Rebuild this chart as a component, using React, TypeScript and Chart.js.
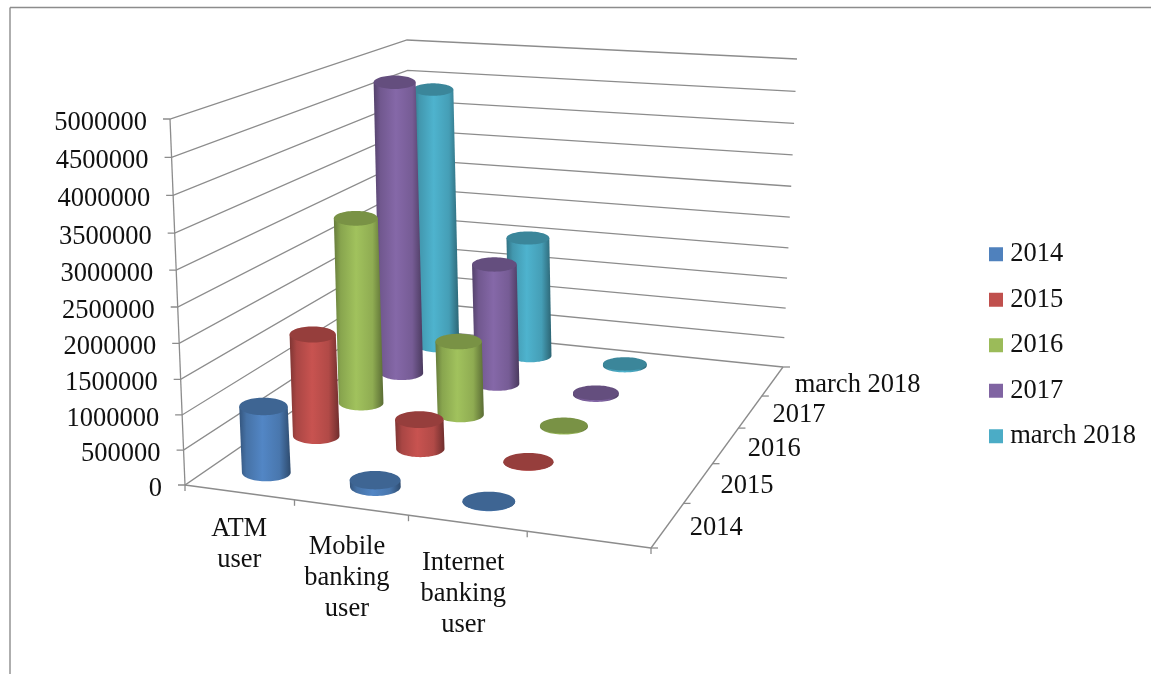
import React, { useEffect, useRef } from "react";
import { Chart, registerables } from "chart.js";

Chart.register(...registerables);

// Chart content
const categoryLabels: string[][] = [["ATM", "user"], ["Mobile", "banking", "user"], ["Internet", "banking", "user"], [""]];
const seriesNames = ["2014", "2015", "2016", "2017", "march 2018"];
const values2014 = [960000, 95000, 5000, null];
const values2015 = [1540000, 440000, 5000, null];
const values2016 = [2900000, 1150000, 15000, null];
const values2017 = [4690000, 1950000, 30000, null];
const valuesMarch2018 = [4340000, 2010000, 30000, null];
const seriesValues = [values2014, values2015, values2016, values2017, valuesMarch2018];
const seriesColors = ["#4F81BD", "#C0504D", "#9BBB59", "#8064A2", "#4BACC6"];

// Perspective box: pixel corners of the floor and ceiling planes
type P = [number, number];
const FLOOR: P[] = [[185, 485], [651, 548], [783, 367], [412, 329]];
const CEILING: P[] = [[170, 119], [661, 163], [797, 59], [407, 40]];
const VERTICAL_FORESHORTENING = 0.053;
const RADIUS_U = 0.057;
const FONT = '26.5px "Liberation Serif"';
const INK = "#111111";
const LINE = "#8c8c8c";

function homography(q: P[]) {
  const [[x0, y0], [x1, y1], [x2, y2], [x3, y3]] = q;
  const dx1 = x1 - x2, dx2 = x3 - x2, sx = x0 - x1 + x2 - x3;
  const dy1 = y1 - y2, dy2 = y3 - y2, sy = y0 - y1 + y2 - y3;
  const det = dx1 * dy2 - dx2 * dy1;
  const g = (sx * dy2 - dx2 * sy) / det;
  const h = (dx1 * sy - sx * dy1) / det;
  const a = x1 - x0 + g * x1, b = x3 - x0 + h * x3;
  const d = y1 - y0 + g * y1, e = y3 - y0 + h * y3;
  return (u: number, v: number): P => {
    const k = g * u + h * v + 1;
    return [(a * u + b * v + x0) / k, (d * u + e * v + y0) / k];
  };
}
const floorAt = homography(FLOOR);
const ceilingAt = homography(CEILING);

function project(u: number, v: number, w: number): P {
  const f = floorAt(u, v);
  const c = ceilingAt(u, v);
  const b = VERTICAL_FORESHORTENING;
  const t = ((1 - b) * w) / (1 - b * w);
  return [f[0] + (c[0] - f[0]) * t, f[1] + (c[1] - f[1]) * t];
}

function shade(hex: string, k: number) {
  const n = parseInt(hex.slice(1), 16);
  const ch = (s: number) => Math.min(255, Math.round(((n >> s) & 255) * k));
  return `rgb(${ch(16)},${ch(8)},${ch(0)})`;
}

function segment(ctx: CanvasRenderingContext2D, a: P, b: P) {
  ctx.beginPath();
  ctx.moveTo(a[0], a[1]);
  ctx.lineTo(b[0], b[1]);
  ctx.stroke();
}

// Screen-aligned ellipse of a cylinder cross-section; index 0 is the right
// extreme, index 36 the left, and the lower half comes first.
function ring(u: number, v: number, w: number): P[] {
  const c = project(u, v, w);
  const rx = (project(u + RADIUS_U, v, w)[0] - project(u - RADIUS_U, v, w)[0]) / 2;
  const ry = rx * (0.37 - 0.07 * v);
  const pts: P[] = [];
  for (let i = 0; i < 72; i++) {
    const t = (i / 72) * Math.PI * 2;
    pts.push([c[0] + rx * Math.cos(t), c[1] + ry * Math.sin(t)]);
  }
  return pts;
}

function drawCylinder(ctx: CanvasRenderingContext2D, u: number, v: number, w: number, color: string) {
  const base = ring(u, v, 0);
  const top = ring(u, v, w);
  const x0 = Math.min(base[36][0], top[36][0]);
  const x1 = Math.max(base[0][0], top[0][0]);

  const side = ctx.createLinearGradient(x0, 0, x1, 0);
  side.addColorStop(0, shade(color, 0.66));
  side.addColorStop(0.14, shade(color, 0.88));
  side.addColorStop(0.45, shade(color, 1.04));
  side.addColorStop(0.78, shade(color, 0.92));
  side.addColorStop(1, shade(color, 0.58));

  ctx.beginPath();
  ctx.moveTo(top[36][0], top[36][1]);
  ctx.lineTo(top[0][0], top[0][1]);
  for (let i = 0; i <= 36; i++) ctx.lineTo(base[i][0], base[i][1]);
  ctx.closePath();
  ctx.fillStyle = side;
  ctx.fill();

  ctx.beginPath();
  top.forEach((p, i) => (i ? ctx.lineTo(p[0], p[1]) : ctx.moveTo(p[0], p[1])));
  ctx.closePath();
  ctx.fillStyle = shade(color, 0.78);
  ctx.fill();
}

// Fractional position of a value on a scale that runs across the chart area
const along = (scale: any, index: number) => (scale.getPixelForValue(index) - scale.left) / scale.width;
const heightOf = (scale: any, value: number) => (scale.bottom - scale.getPixelForValue(value)) / scale.height;

const perspectivePlugin = {
  id: "perspectiveBox",
  beforeDraw(chart: any) {
    const ctx = chart.ctx;
    ctx.save();
    ctx.strokeStyle = LINE;
    ctx.lineWidth = 1.4;
    segment(ctx, [10, 7.5], [1151, 7.5]);
    segment(ctx, [10, 7.5], [10, 674]);
    ctx.restore();
  },
  afterLayout(chart: any) {
    const legend = chart.legend;
    legend.left = 976;
    legend.right = 1151;
    legend.top = 222;
    legend.bottom = 674;
  },
  beforeDatasetsDraw(chart: any) {
    const { ctx, scales } = chart;
    const { x, y, z } = scales;
    ctx.save();
    ctx.strokeStyle = LINE;
    ctx.lineWidth = 1.3;
    ctx.lineJoin = "miter";

    // Gridlines running along the side wall and the back wall
    y.ticks.forEach((tick: any) => {
      const w = heightOf(y, tick.value);
      const a = project(0, 0, w), b = project(0, 1, w), c = project(1, 1, w);
      ctx.beginPath();
      ctx.moveTo(a[0] - 7, a[1]);
      ctx.lineTo(a[0], a[1]);
      ctx.lineTo(b[0], b[1]);
      ctx.lineTo(c[0], c[1]);
      ctx.stroke();
    });
    segment(ctx, project(0, 0, 0), project(0, 0, 1));

    // Floor edges with tick marks at the band boundaries
    segment(ctx, project(0, 0, 0), project(1, 0, 0));
    segment(ctx, project(1, 0, 0), project(1, 1, 0));
    const bands = x.getLabels().length;
    for (let i = 0; i <= bands; i++) {
      const p = project(i / bands, 0, 0);
      segment(ctx, p, [p[0], p[1] + 6]);
    }
    const rows = z.getLabels().length;
    for (let i = 0; i <= rows; i++) {
      const p = project(1, i / rows, 0);
      segment(ctx, p, [p[0] + 7, p[1]]);
    }

    ctx.fillStyle = INK;
    ctx.font = FONT;

    // Value labels follow the slanted front axis
    ctx.textAlign = "right";
    ctx.textBaseline = "middle";
    y.ticks.forEach((tick: any) => {
      const p = project(0, 0, heightOf(y, tick.value));
      ctx.fillText(String(tick.value), p[0] - 23, p[1] + 4);
    });

    // Category labels below the front edge
    ctx.textAlign = "center";
    x.getLabels().forEach((lines: string[], i: number) => {
      const p = project(along(x, i), 0, 0);
      const dx = lines.length === 2 ? 0 : -4;
      const dy = lines.length === 2 ? 37 : 40;
      lines.forEach((line, k) => ctx.fillText(line, p[0] + dx, p[1] + dy + k * 31));
    });

    // Series labels beside the right floor edge
    ctx.textAlign = "left";
    z.getLabels().forEach((name: string, i: number) => {
      const p = project(1, along(z, i), 0);
      ctx.fillText(name, p[0] + 22, p[1] + 3.5);
    });
    ctx.restore();
  },
  beforeDatasetDraw(chart: any, args: any) {
    const { ctx, scales } = chart;
    const dataset = chart.data.datasets[args.index];
    const v = along(scales.z, args.index);
    ctx.save();
    dataset.data.forEach((value: number | null, i: number) => {
      if (value === null) return;
      drawCylinder(ctx, along(scales.x, i), v, heightOf(scales.y, value), dataset.backgroundColor);
    });
    ctx.restore();
    return false;
  },
};

export default function App() {
  const ref = useRef<HTMLCanvasElement>(null);

  useEffect(() => {
    document.body.style.margin = "0";
    const chart = new Chart(ref.current!, {
      type: "bar",
      data: {
        labels: categoryLabels as any,
        datasets: seriesNames.map((label, i) => ({
          label,
          data: seriesValues[i],
          backgroundColor: seriesColors[i],
        })),
      },
      plugins: [perspectivePlugin],
      options: {
        responsive: false,
        animation: false,
        layout: { padding: { top: 119, bottom: 189, left: 160 } },
        scales: {
          x: { type: "category", offset: true, display: false },
          z: { type: "category", axis: "x", labels: seriesNames, offset: true, display: false },
          y: {
            min: 0,
            max: 5000000,
            ticks: { stepSize: 500000, display: false },
            grid: { display: false },
            border: { display: false },
          },
        } as any,
        plugins: {
          title: { display: false },
          tooltip: { enabled: false },
          legend: {
            position: "right",
            align: "start",
            labels: {
              boxWidth: 2,
              boxHeight: 2,
              padding: 19,
              color: INK,
              font: { family: "Liberation Serif", size: 26.5 },
              // A thick outline squares off the swatch and keeps the label close to it
              generateLabels(c: any) {
                return c.data.datasets.map((d: any, i: number) => ({
                  text: d.label,
                  fillStyle: d.backgroundColor,
                  strokeStyle: d.backgroundColor,
                  lineWidth: 12,
                  datasetIndex: i,
                  fontColor: INK,
                }));
              },
            },
          },
        },
      },
    } as any);
    return () => chart.destroy();
  }, []);

  return <canvas ref={ref} width={1151} height={674} style={{ display: "block" }} />;
}
